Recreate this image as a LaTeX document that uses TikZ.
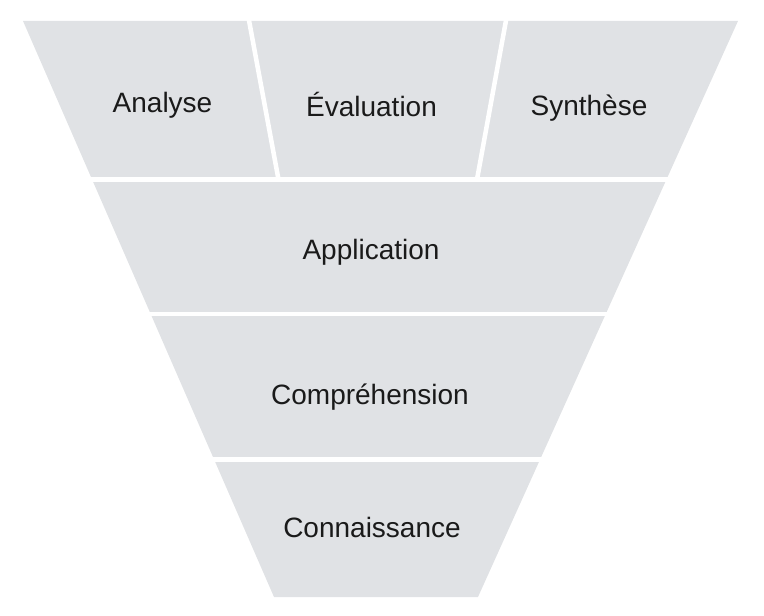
\documentclass[tikz,border=0pt]{standalone}
\usepackage{fontspec}
\setmainfont{Liberation Sans}
\definecolor{funnelgray}{RGB}{224,226,229}
\definecolor{labelink}{RGB}{26,26,26}
\begin{document}
\begin{tikzpicture}[x=0.75pt,y=-0.75pt,
  gap/.style={draw=white,line width=3.4pt},
  lbl/.style={anchor=base,font=\fontsize{21pt}{24pt}\selectfont,text=labelink,inner sep=0pt}]
\useasboundingbox (0,0) rectangle (764,616);
% funnel body
\fill[funnelgray] (23,21) -- (738,21) -- (478,597) -- (274,597) -- cycle;
% separators
\draw[gap] (0,179.5) -- (764,179.5);
\draw[gap] (0,314) -- (764,314);
\draw[gap] (0,459.5) -- (764,459.5);
\draw[gap] (248,15) -- (278.5,179.5);
\draw[gap] (507,15) -- (477,179.5);
% labels
\node[lbl] (analyse) at (162.5,113) {Analyse};
\node[lbl] (evaluation) at (371.5,117) {Évaluation};
\node[lbl] (synthese) at (589,116) {Synthèse};
\node[lbl] (application) at (371,260) {Application};
\node[lbl] (comprehension) at (370,405) {Compréhension};
\node[lbl] (connaissance) at (372,537) {Connaissance};
\end{tikzpicture}
\end{document}
